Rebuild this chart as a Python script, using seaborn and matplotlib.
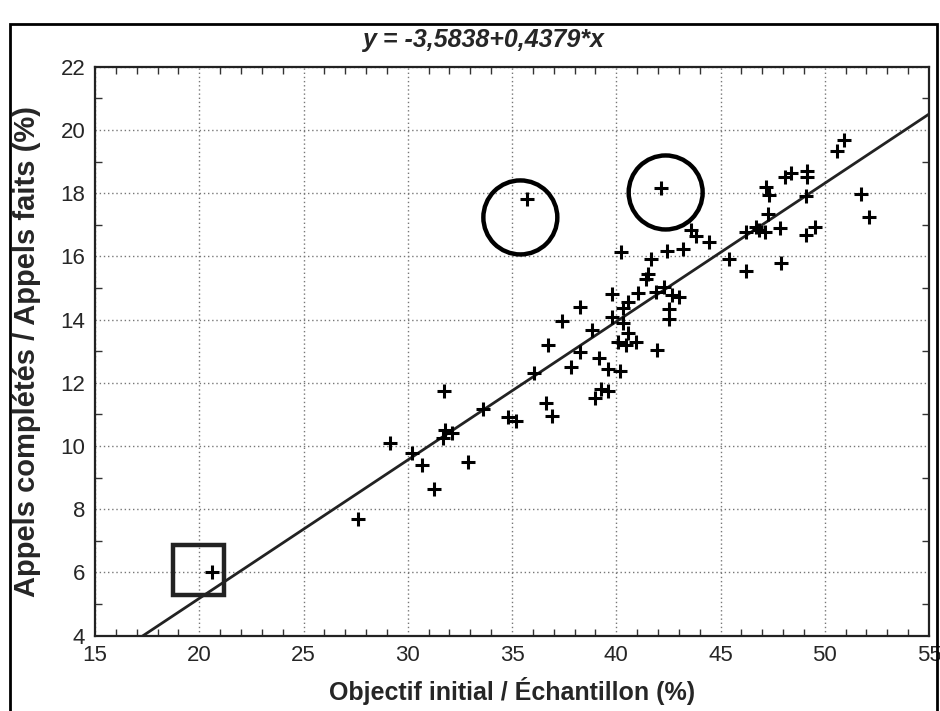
import numpy as np
import pandas as pd
import matplotlib
matplotlib.use("Agg")
import matplotlib.pyplot as plt
import seaborn as sns
from matplotlib.patches import Ellipse, Rectangle

# ---- data ----
objectif = [20.62, 27.62, 29.14, 30.21, 30.66, 31.25, 32.90, 31.78, 32.10, 31.70,
            31.74, 33.61, 34.81, 35.18, 36.06, 36.62, 36.94, 37.82, 37.42, 36.73,
            38.27, 40.33, 40.57, 39.82, 40.30, 40.57, 38.86, 40.09, 40.46, 40.94,
            41.97, 39.18, 39.61, 40.20, 39.29, 39.61, 38.97, 42.54, 42.54, 38.25,
            43.60, 43.81, 44.45, 40.25, 42.44, 43.20, 41.65, 41.50, 41.41, 39.82,
            41.05, 41.89, 42.28, 42.69, 43.01, 35.71, 42.17, 45.41, 50.90, 50.60,
            48.09, 48.40, 49.15, 49.15, 47.20, 47.32, 49.08, 51.75, 52.12, 47.28,
            46.21, 46.69, 46.85, 47.12, 47.84, 49.08, 49.52, 46.24, 47.92]
appels = [6.02, 7.68, 10.10, 9.77, 9.40, 8.63, 9.50, 10.50, 10.42, 10.24,
          11.75, 11.16, 10.90, 10.79, 12.32, 11.37, 10.95, 12.49, 13.96, 13.19,
          14.39, 14.35, 14.56, 14.07, 13.90, 13.58, 13.67, 13.30, 13.19, 13.30,
          13.02, 12.77, 12.42, 12.38, 11.79, 11.75, 11.51, 14.33, 14.02, 12.98,
          16.83, 16.64, 16.45, 16.14, 16.18, 16.22, 15.91, 15.44, 15.27, 14.81,
          14.85, 14.88, 15.04, 14.78, 14.70, 17.81, 18.15, 15.91, 19.68, 19.34,
          18.50, 18.63, 18.71, 18.52, 18.20, 17.94, 17.91, 17.97, 17.25, 17.34,
          16.78, 16.94, 16.83, 16.78, 16.89, 16.67, 16.92, 15.54, 15.78]

intercept = -3.5838
slope = 0.4379
title_text = "y = -3,5838+0,4379*x"
xlabel = "Objectif initial / Échantillon (%)"
ylabel = "Appels complétés / Appels faits (%)"
x_ticks = [15, 20, 25, 30, 35, 40, 45, 50, 55]
y_ticks = [4, 6, 8, 10, 12, 14, 16, 18, 20, 22]

# highlighted points (annotation shapes)
circle_centers = [(35.40, 17.23), (42.37, 18.02)]
square_box = (18.75, 5.27, 21.18, 6.86)

df = pd.DataFrame({"x": objectif, "y": appels})
line_x = [15, 55]
line_df = pd.DataFrame({"x": line_x, "y": [intercept + slope * v for v in line_x]})

sns.set_theme(style="white")
plt.rcParams["font.family"] = ["Liberation Sans", "DejaVu Sans"]

fig = plt.figure(figsize=(9.4, 7.11), dpi=100)
ax = fig.add_axes([95 / 940, 1 - 635.5 / 711, (929 - 95) / 940, (635.5 - 66.7) / 711])

sns.lineplot(data=line_df, x="x", y="y", ax=ax, color="#222222", lw=2.0, zorder=3)
sns.scatterplot(data=df, x="x", y="y", ax=ax, marker="+", s=90, color="black",
                linewidth=2.2, zorder=4)

ax.set_xlim(15, 55)
ax.set_ylim(4, 22)
ax.set_xticks(x_ticks)
ax.set_yticks(y_ticks)
ax.set_xticks(np.arange(15, 56, 1), minor=True)
ax.set_yticks(np.arange(4, 23, 1), minor=True)
ax.tick_params(which="major", direction="in", length=0, labelsize=16, pad=7,
               top=True, right=True)
ax.tick_params(which="minor", direction="in", length=5, width=1.0, color="#333333",
               bottom=True, left=True, top=True, right=True)
ax.grid(True, which="major", linestyle=(0, (1, 2)), color="#777777", lw=1.0)
for s in ax.spines.values():
    s.set_color("#222222")
    s.set_linewidth(1.6)

ax.set_xlabel(xlabel, fontsize=18, fontweight="bold", labelpad=8)
ax.set_ylabel(ylabel, fontsize=21, fontweight="bold", labelpad=14)

for (cx, cy) in circle_centers:
    ax.add_patch(Ellipse((cx, cy), width=2 * 37 / 20.86, height=2 * 37 / 31.6,
                         fill=False, ec="black", lw=3.2, zorder=5))
x0, y0, x1, y1 = square_box
ax.add_patch(Rectangle((x0, y0), x1 - x0, y1 - y0, fill=False, ec="#222222",
                       lw=3.2, zorder=5))

fig.text(483 / 940, 1 - 40 / 711, title_text, ha="center", va="center",
         fontsize=18, fontweight="bold", style="italic")

fig.patches.append(Rectangle((10 / 940, -0.02), (937 - 10) / 940, (711 - 24) / 711 + 0.02,
                             transform=fig.transFigure, fill=False, ec="black", lw=2.0))

fig.savefig("out.png", dpi=100, facecolor="white")
